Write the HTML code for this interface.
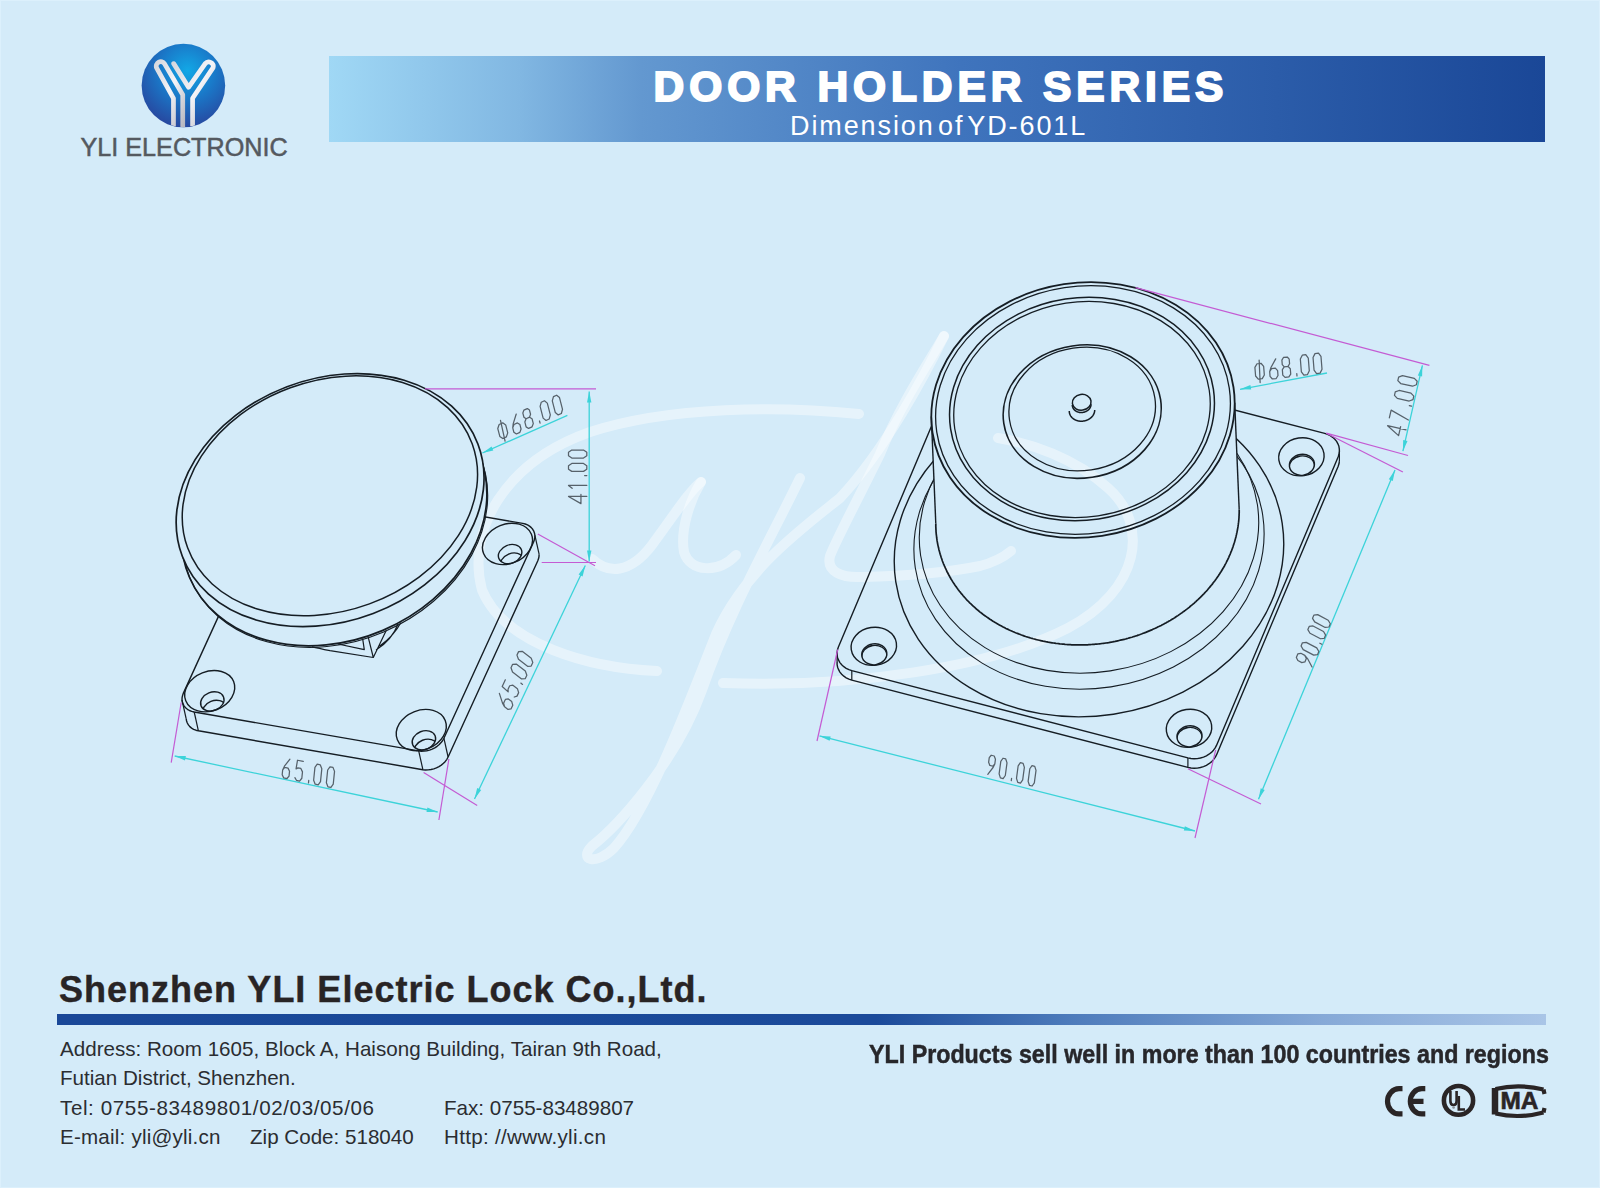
<!DOCTYPE html>
<html><head><meta charset="utf-8">
<style>
html,body{margin:0;padding:0;}
body{width:1600px;height:1188px;position:relative;overflow:hidden;background:#d4ebf9;box-shadow:inset -1px -1px 0 #dcf0fc, inset 1px 1px 0 #dcf0fc;font-family:"Liberation Sans",sans-serif;}
.abs{position:absolute;line-height:1;white-space:pre;}
#bar{position:absolute;left:329px;top:56px;width:1216px;height:86px;background:linear-gradient(to right,#a0d8f5 0%,#81b7e2 15.7%,#6398d0 25.6%,#3f74bd 52%,#2b5ca9 78%,#1a4797 100%);}
#t1{left:653.6px;top:65.6px;font-size:42.5px;font-weight:bold;color:#fff;letter-spacing:4.9px;-webkit-text-stroke:2px #fff;}
#t2{left:790px;top:112.5px;font-size:27px;color:#fff;letter-spacing:1.9px;word-spacing:-6px;}
#logo-t{left:80.5px;top:135px;font-size:25.2px;color:#545960;-webkit-text-stroke:0.5px #545960;}
#comp{left:59px;top:972px;font-size:36px;font-weight:bold;color:#282425;letter-spacing:1px;-webkit-text-stroke:0.4px #282425;}
#line{position:absolute;left:57px;top:1014px;width:1489px;height:11px;background:linear-gradient(to right,#1a4898 0%,#1b4a9a 55%,#4d7bbb 68%,#86a9d7 85%,#a9c5e7 100%);}
.ft{font-size:20.6px;color:#2b2d31;}
#prod{left:869px;top:1041.5px;font-size:25.4px;font-weight:bold;color:#27272b;transform:scaleX(0.916);transform-origin:0 0;-webkit-text-stroke:0.5px #27272b;}
</style></head>
<body>
<svg id="dwg" width="1600" height="1188" viewBox="0 0 1600 1188" style="position:absolute;left:0;top:0"><defs><mask id="mDisc" maskUnits="userSpaceOnUse" x="0" y="0" width="1600" height="1188"><rect width="1600" height="1188" fill="#fff"/><ellipse cx="330.1" cy="500.1" rx="158.1" ry="121.3" transform="rotate(159.2 330.1 500.1)" fill="#000"/><ellipse cx="334.1" cy="515.5" rx="157.3" ry="124.8" transform="rotate(157.0 334.1 515.5)" fill="#000"/></mask><mask id="mE1" maskUnits="userSpaceOnUse" x="0" y="0" width="1600" height="1188"><rect width="1600" height="1188" fill="#fff"/><ellipse cx="330.1" cy="500.1" rx="158.1" ry="121.3" transform="rotate(159.2 330.1 500.1)" fill="#000"/></mask><clipPath id="hl0"><ellipse cx="212.3" cy="701.4" rx="12.1" ry="9.2" transform="rotate(158.1 212.3 701.4)" /></clipPath><clipPath id="hl1"><ellipse cx="423.9" cy="740.3" rx="12.1" ry="9.2" transform="rotate(158.1 423.9 740.3)" /></clipPath><clipPath id="hl2"><ellipse cx="510.1" cy="554.1" rx="12.1" ry="9.2" transform="rotate(158.1 510.1 554.1)" /></clipPath><mask id="mCyl" maskUnits="userSpaceOnUse" x="0" y="0" width="1600" height="1188"><rect width="1600" height="1188" fill="#fff"/><ellipse cx="1083.0" cy="410.0" rx="152.2" ry="127.3" transform="rotate(171.4 1083.0 410.0)" fill="#000"/><ellipse cx="1087.5" cy="517.0" rx="152.2" ry="127.3" transform="rotate(171.4 1087.5 517.0)" fill="#000"/><path d="M931.3,416.5 L1234.7,402.9 L1239.2,509.9 L935.8,523.5 Z" fill="#000"/></mask><clipPath id="hr0"><ellipse cx="874.3" cy="654.3" rx="12.6" ry="10.5" transform="rotate(171.4 874.3 654.3)" /></clipPath><clipPath id="hr1"><ellipse cx="1189.5" cy="736.3" rx="12.6" ry="10.5" transform="rotate(171.4 1189.5 736.3)" /></clipPath><clipPath id="hr2"><ellipse cx="1301.9" cy="464.8" rx="12.6" ry="10.5" transform="rotate(171.4 1301.9 464.8)" /></clipPath></defs><g fill="none" stroke="#ffffff" stroke-opacity="0.42" stroke-width="10" stroke-linecap="round" stroke-linejoin="round">
<path d="M859,414 C780,406 670,406 590,432 C505,462 466,530 482,590 C505,645 590,668 657,671"/>
<path d="M723,683 C850,688 990,668 1068,628 C1140,590 1150,525 1108,488 C1075,458 1030,443 998,438"/>
<path d="M592,559 C608,574 630,574 652,545 C672,518 690,490 701,482"/>
<path d="M701,482 C690,500 680,530 684,552 C690,572 718,574 736,555"/>
<path d="M800,478 C770,540 730,610 702,690 C675,765 615,828 592,846 C578,860 596,866 614,848 C650,808 690,700 716,634 C745,570 800,530 840,498 C885,450 925,375 944,336"/>
<path d="M944,336 C930,360 900,405 880,454 C855,505 836,540 830,556 C826,572 842,578 862,577 C910,576 950,572 980,566 C995,562 1005,556 1011,551"/>
</g>
<g fill="none" stroke="#151d24" stroke-width="1.4" stroke-linejoin="round"><path d="M183.4,693.1 L182.6,695.4 L182.1,697.7 L182.0,700.0 L182.4,702.2 L183.1,704.2 L184.2,706.1 L185.6,707.8 L187.4,709.3 L189.4,710.5 L191.7,711.4 L194.2,712.0 L418.7,750.9 L421.3,751.2 L424.0,751.1 L426.8,750.7 L429.6,750.1 L432.2,749.1 L434.8,747.8 L437.1,746.3 L439.3,744.5 L441.1,742.6 L442.7,740.5 L443.9,738.2 L533.5,542.2 L534.3,540.0 L534.8,537.7 L534.9,535.4 L534.5,533.2 L533.8,531.2 L532.7,529.3 L531.3,527.6 L529.5,526.1 L527.5,524.9 L525.2,524.0 L522.7,523.4 L298.2,484.5 L295.6,484.2 L292.9,484.3 L290.1,484.6 L287.3,485.3 L284.7,486.3 L282.1,487.6 L279.8,489.1 L277.6,490.9 L275.8,492.8 L274.2,494.9 L273.0,497.1 Z" mask="url(#mDisc)"/><path d="M186.2,718.8 L186.6,721.0 L187.3,723.0 L188.4,724.9 L189.8,726.6 L191.6,728.1 L193.6,729.3 L195.9,730.2 L198.4,730.8 L422.9,769.7 L425.5,770.0 L428.2,769.9 L431.0,769.5 L433.8,768.9 L436.4,767.9 L439.0,766.6 L441.3,765.1 L443.5,763.3 L445.3,761.4 L446.9,759.3 L448.1,757.0 L537.7,561.0 L538.5,558.8 L539.0,556.5 L539.1,554.2" mask="url(#mDisc)"/><line x1="182.0" y1="700.0" x2="186.2" y2="718.8" stroke="#151d24" stroke-width="1.2" /><line x1="194.2" y1="712.0" x2="198.4" y2="730.8" stroke="#151d24" stroke-width="1.2" /><line x1="418.7" y1="750.9" x2="422.9" y2="769.7" stroke="#151d24" stroke-width="1.2" /><line x1="443.9" y1="738.2" x2="448.1" y2="757.0" stroke="#151d24" stroke-width="1.2" /><line x1="534.9" y1="535.4" x2="539.1" y2="554.2" stroke="#151d24" stroke-width="1.2" /><ellipse cx="209.7" cy="691.2" rx="25.8" ry="19.7" transform="rotate(158.1 209.7 691.2)" /><ellipse cx="212.3" cy="701.4" rx="12.1" ry="9.2" transform="rotate(158.1 212.3 701.4)" /><g clip-path="url(#hl0)"><ellipse cx="214.3" cy="709.9" rx="12.1" ry="9.2" transform="rotate(158.1 214.3 709.9)" /></g><ellipse cx="421.3" cy="730.1" rx="25.8" ry="19.7" transform="rotate(158.1 421.3 730.1)" /><ellipse cx="423.9" cy="740.3" rx="12.1" ry="9.2" transform="rotate(158.1 423.9 740.3)" /><g clip-path="url(#hl1)"><ellipse cx="425.9" cy="748.8" rx="12.1" ry="9.2" transform="rotate(158.1 425.9 748.8)" /></g><ellipse cx="507.5" cy="543.9" rx="25.8" ry="19.7" transform="rotate(158.1 507.5 543.9)" /><ellipse cx="510.1" cy="554.1" rx="12.1" ry="9.2" transform="rotate(158.1 510.1 554.1)" /><g clip-path="url(#hl2)"><ellipse cx="512.1" cy="562.6" rx="12.1" ry="9.2" transform="rotate(158.1 512.1 562.6)" /></g><ellipse cx="330.1" cy="500.1" rx="158.1" ry="121.3" transform="rotate(159.2 330.1 500.1)" stroke-width="1.7"/><ellipse cx="329.9" cy="495.8" rx="151.5" ry="115.1" transform="rotate(159.9 329.9 495.8)" stroke-width="1.5"/><g mask="url(#mE1)"><ellipse cx="334.1" cy="515.5" rx="157.3" ry="124.8" transform="rotate(157.0 334.1 515.5)" stroke-width="1.7"/><ellipse cx="334.9" cy="517.1" rx="157.3" ry="124.8" transform="rotate(157.0 334.9 517.1)" stroke-width="1.1"/></g><path d="M337.9,644 L364.3,649.6 L362.6,638.4 M368.2,637.2 L373.3,657.5 L386.2,630.5 M373.3,657.5 L330,650.7 Q318,648 312,646.8 M379.5,646.2 Q394,636 400.9,622.6 M376,650 Q392,640 398,624" stroke-width="1.2"/></g><g fill="none" stroke="#151d24" stroke-width="1.4" stroke-linejoin="round"><path d="M838.4,647.1 L837.5,649.7 L837.1,652.4 L837.1,655.1 L837.6,657.7 L838.6,660.2 L839.9,662.6 L841.7,664.7 L843.8,666.7 L846.2,668.3 L848.9,669.6 L851.8,670.6 L1187.9,757.9 L1191.0,758.5 L1194.1,758.7 L1197.3,758.6 L1200.4,758.0 L1203.5,757.1 L1206.4,755.8 L1209.0,754.2 L1211.4,752.4 L1213.5,750.2 L1215.2,747.9 L1216.5,745.4 L1338.1,456.9 L1339.0,454.3 L1339.4,451.6 L1339.3,448.9 L1338.9,446.3 L1337.9,443.8 L1336.6,441.4 L1334.8,439.2 L1332.7,437.3 L1330.3,435.7 L1327.6,434.4 L1324.7,433.4 L988.6,346.1 L985.5,345.5 L982.4,345.2 L979.2,345.4 L976.0,346.0 L973.0,346.9 L970.1,348.2 L967.4,349.7 L965.1,351.6 L963.0,353.8 L961.3,356.1 L960.0,358.6 Z" mask="url(#mCyl)"/><path d="M837.1,661.9 L837.1,664.6 L837.6,667.2 L838.6,669.7 L839.9,672.1 L841.7,674.2 L843.8,676.2 L846.2,677.8 L848.9,679.1 L851.8,680.1 L1187.9,767.4 L1191.0,768.0 L1194.1,768.2 L1197.3,768.1 L1200.4,767.5 L1203.5,766.6 L1206.4,765.3 L1209.0,763.7 L1211.4,761.9 L1213.5,759.7 L1215.2,757.4 L1216.5,754.9 L1338.1,466.4 L1339.0,463.8 L1339.4,461.1"/><line x1="837.1" y1="652.4" x2="837.1" y2="661.9" stroke="#151d24" stroke-width="1.2" /><line x1="851.8" y1="670.6" x2="851.8" y2="680.1" stroke="#151d24" stroke-width="1.2" /><line x1="1187.9" y1="757.9" x2="1187.9" y2="767.4" stroke="#151d24" stroke-width="1.2" /><line x1="1339.4" y1="451.6" x2="1339.4" y2="461.1" stroke="#151d24" stroke-width="1.2" /><g mask="url(#mCyl)"><ellipse cx="1089.0" cy="552.6" rx="195.4" ry="163.5" transform="rotate(171.4 1089.0 552.6)" /><ellipse cx="1089.0" cy="541.5" rx="175.7" ry="147.0" transform="rotate(171.4 1089.0 541.5)" stroke-width="1.1"/><ellipse cx="1089.0" cy="530.0" rx="170.3" ry="142.5" transform="rotate(171.4 1089.0 530.0)" stroke-width="1.1"/></g><path d="M935.8,523.5 L935.8,524.6 L935.8,525.8 L935.8,526.9 L935.9,528.0 L935.9,529.1 L936.0,530.2 L936.0,531.3 L936.1,532.4 L936.2,533.5 L936.3,534.7 L936.5,535.8 L936.6,536.9 L936.7,538.0 L936.9,539.1 L937.0,540.2 L937.2,541.3 L937.4,542.4 L937.6,543.5 L937.8,544.6 L938.0,545.6 L938.3,546.7 L938.5,547.8 L938.8,548.9 L939.0,550.0 L939.3,551.1 L939.6,552.1 L939.9,553.2 L940.2,554.3 L940.6,555.4 L940.9,556.4 L941.2,557.5 L941.6,558.5 L942.0,559.6 L942.3,560.7 L942.7,561.7 L943.1,562.7 L943.5,563.8 L944.0,564.8 L944.4,565.9 L944.9,566.9 L945.3,567.9 L945.8,568.9 L946.3,570.0 L946.7,571.0 L947.2,572.0 L947.8,573.0 L948.3,574.0 L948.8,575.0 L949.4,576.0 L949.9,577.0 L950.5,578.0 L951.0,579.0 L951.6,579.9 L952.2,580.9 L952.8,581.9 L953.4,582.8 L954.1,583.8 L954.7,584.7 L955.4,585.7 L956.0,586.6 L956.7,587.6 L957.4,588.5 L958.0,589.4 L958.7,590.3 L959.4,591.2 L960.2,592.1 L960.9,593.1 L961.6,593.9 L962.4,594.8 L963.1,595.7 L963.9,596.6 L964.7,597.5 L965.4,598.3 L966.2,599.2 L967.0,600.1 L967.8,600.9 L968.7,601.7 L969.5,602.6 L970.3,603.4 L971.2,604.2 L972.0,605.0 L972.9,605.8 L973.8,606.6 L974.7,607.4 L975.5,608.2 L976.4,609.0 L977.4,609.8 L978.3,610.5 L979.2,611.3 L980.1,612.1 L981.1,612.8 L982.0,613.5 L983.0,614.3 L983.9,615.0 L984.9,615.7 L985.9,616.4 L986.9,617.1 L987.9,617.8 L988.9,618.5 L989.9,619.2 L990.9,619.8 L991.9,620.5 L993.0,621.2 L994.0,621.8 L995.1,622.4 L996.1,623.1 L997.2,623.7 L998.2,624.3 L999.3,624.9 L1000.4,625.5 L1001.5,626.1 L1002.6,626.7 L1003.7,627.2 L1004.8,627.8 L1005.9,628.4 L1007.0,628.9 L1008.2,629.4 L1009.3,630.0 L1010.4,630.5 L1011.6,631.0 L1012.7,631.5 L1013.9,632.0 L1015.0,632.5 L1016.2,633.0 L1017.4,633.4 L1018.6,633.9 L1019.7,634.3 L1020.9,634.8 L1022.1,635.2 L1023.3,635.6 L1024.5,636.1 L1025.7,636.5 L1027.0,636.9 L1028.2,637.2 L1029.4,637.6 L1030.6,638.0 L1031.9,638.3 L1033.1,638.7 L1034.3,639.0 L1035.6,639.4 L1036.8,639.7 L1038.1,640.0 L1039.3,640.3 L1040.6,640.6 L1041.8,640.9 L1043.1,641.2 L1044.4,641.4 L1045.7,641.7 L1046.9,641.9 L1048.2,642.2 L1049.5,642.4 L1050.8,642.6 L1052.1,642.8 L1053.4,643.0 L1054.6,643.2 L1055.9,643.4 L1057.2,643.5 L1058.5,643.7 L1059.8,643.9 L1061.1,644.0 L1062.5,644.1 L1063.8,644.2 L1065.1,644.4 L1066.4,644.5 L1067.7,644.6 L1069.0,644.6 L1070.3,644.7 L1071.6,644.8 L1073.0,644.8 L1074.3,644.9 L1075.6,644.9 L1076.9,644.9 L1078.3,644.9 L1079.6,644.9 L1080.9,644.9 L1082.2,644.9 L1083.6,644.9 L1084.9,644.9 L1086.2,644.8 L1087.5,644.8 L1088.9,644.7 L1090.2,644.6 L1091.5,644.5 L1092.8,644.4 L1094.2,644.3 L1095.5,644.2 L1096.8,644.1 L1098.1,644.0 L1099.5,643.8 L1100.8,643.7 L1102.1,643.5 L1103.4,643.3 L1104.7,643.2 L1106.0,643.0 L1107.4,642.8 L1108.7,642.6 L1110.0,642.3 L1111.3,642.1 L1112.6,641.9 L1113.9,641.6 L1115.2,641.4 L1116.5,641.1 L1117.8,640.8 L1119.1,640.5 L1120.4,640.2 L1121.7,639.9 L1123.0,639.6 L1124.3,639.3 L1125.6,639.0 L1126.9,638.6 L1128.1,638.3 L1129.4,637.9 L1130.7,637.5 L1131.9,637.2 L1133.2,636.8 L1134.5,636.4 L1135.7,636.0 L1137.0,635.6 L1138.2,635.1 L1139.5,634.7 L1140.7,634.3 L1142.0,633.8 L1143.2,633.3 L1144.4,632.9 L1145.7,632.4 L1146.9,631.9 L1148.1,631.4 L1149.3,630.9 L1150.5,630.4 L1151.7,629.9 L1152.9,629.3 L1154.1,628.8 L1155.3,628.3 L1156.5,627.7 L1157.7,627.1 L1158.8,626.6 L1160.0,626.0 L1161.2,625.4 L1162.3,624.8 L1163.5,624.2 L1164.6,623.6 L1165.8,623.0 L1166.9,622.3 L1168.0,621.7 L1169.1,621.0 L1170.3,620.4 L1171.4,619.7 L1172.5,619.0 L1173.6,618.4 L1174.7,617.7 L1175.7,617.0 L1176.8,616.3 L1177.9,615.6 L1178.9,614.9 L1180.0,614.1 L1181.0,613.4 L1182.1,612.7 L1183.1,611.9 L1184.1,611.2 L1185.2,610.4 L1186.2,609.6 L1187.2,608.9 L1188.2,608.1 L1189.2,607.3 L1190.1,606.5 L1191.1,605.7 L1192.1,604.9 L1193.0,604.1 L1194.0,603.3 L1194.9,602.4 L1195.9,601.6 L1196.8,600.7 L1197.7,599.9 L1198.6,599.0 L1199.5,598.2 L1200.4,597.3 L1201.3,596.4 L1202.1,595.6 L1203.0,594.7 L1203.9,593.8 L1204.7,592.9 L1205.5,592.0 L1206.4,591.1 L1207.2,590.2 L1208.0,589.2 L1208.8,588.3 L1209.6,587.4 L1210.4,586.4 L1211.1,585.5 L1211.9,584.6 L1212.7,583.6 L1213.4,582.6 L1214.1,581.7 L1214.9,580.7 L1215.6,579.7 L1216.3,578.8 L1217.0,577.8 L1217.7,576.8 L1218.4,575.8 L1219.0,574.8 L1219.7,573.8 L1220.3,572.8 L1221.0,571.8 L1221.6,570.8 L1222.2,569.8 L1222.8,568.8 L1223.4,567.7 L1224.0,566.7 L1224.6,565.7 L1225.1,564.6 L1225.7,563.6 L1226.2,562.6 L1226.7,561.5 L1227.3,560.5 L1227.8,559.4 L1228.3,558.3 L1228.8,557.3 L1229.2,556.2 L1229.7,555.2 L1230.2,554.1 L1230.2,554.1 L1230.6,553.0 L1231.0,551.9 L1231.5,550.9 L1231.9,549.8 L1232.3,548.7 L1232.7,547.6 L1233.1,546.5 L1233.4,545.4 L1233.8,544.4 L1234.1,543.3 L1234.5,542.2 L1234.8,541.1 L1235.1,540.0 L1235.4,538.9 L1235.7,537.8 L1236.0,536.7 L1236.2,535.6 L1236.5,534.5 L1236.7,533.3 L1237.0,532.2 L1237.2,531.1 L1237.4,530.0 L1237.6,528.9 L1237.8,527.8 L1238.0,526.7 L1238.1,525.6 L1238.3,524.4 L1238.4,523.3 L1238.6,522.2 L1238.7,521.1 L1238.8,520.0 L1238.9,518.9 L1239.0,517.7 L1239.0,516.6 L1239.1,515.5 L1239.1,514.4 L1239.2,513.3 L1239.2,512.1 L1239.2,511.0 L1239.2,509.9" stroke-width="1.7"/><line x1="931.3" y1="416.5" x2="935.8" y2="523.5" stroke="#151d24" stroke-width="1.4" /><line x1="1234.7" y1="402.9" x2="1239.2" y2="509.9" stroke="#151d24" stroke-width="1.4" /><ellipse cx="1083.0" cy="410.0" rx="152.2" ry="127.3" transform="rotate(171.4 1083.0 410.0)" stroke-width="1.8"/><ellipse cx="1083.0" cy="410.0" rx="147.9" ry="123.7" transform="rotate(171.4 1083.0 410.0)" stroke-width="1.3"/><ellipse cx="1082.0" cy="409.0" rx="132.9" ry="111.2" transform="rotate(171.4 1082.0 409.0)" stroke-width="1.5"/><ellipse cx="1082.0" cy="409.5" rx="128.7" ry="107.6" transform="rotate(171.4 1082.0 409.5)" stroke-width="1.3"/><ellipse cx="1082.2" cy="411.6" rx="79.3" ry="66.4" transform="rotate(171.4 1082.2 411.6)" stroke-width="1.6"/><ellipse cx="1082.2" cy="409.0" rx="73.5" ry="61.5" transform="rotate(171.4 1082.2 409.0)" stroke-width="1.3"/><path d="M1069.3,411.0 L1069.3,411.2 L1069.3,411.4 L1069.3,411.6 L1069.3,411.8 L1069.3,411.9 L1069.3,412.1 L1069.4,412.3 L1069.4,412.5 L1069.4,412.7 L1069.4,412.9 L1069.5,413.0 L1069.5,413.2 L1069.6,413.4 L1069.6,413.6 L1069.7,413.8 L1069.7,414.0 L1069.8,414.1 L1069.9,414.3 L1069.9,414.5 L1070.0,414.7 L1070.1,414.8 L1070.2,415.0 L1070.3,415.2 L1070.3,415.3 L1070.4,415.5 L1070.5,415.7 L1070.6,415.8 L1070.7,416.0 L1070.8,416.2 L1070.9,416.3 L1071.1,416.5 L1071.2,416.6 L1071.3,416.8 L1071.4,416.9 L1071.5,417.1 L1071.7,417.2 L1071.8,417.4 L1071.9,417.5 L1072.1,417.7 L1072.2,417.8 L1072.4,417.9 L1072.5,418.1 L1072.7,418.2 L1072.8,418.3 L1073.0,418.5 L1073.1,418.6 L1073.3,418.7 L1073.4,418.8 L1073.6,418.9 L1073.8,419.1 L1074.0,419.2 L1074.1,419.3 L1074.3,419.4 L1074.5,419.5 L1074.7,419.6 L1074.8,419.7 L1075.0,419.8 L1075.2,419.9 L1075.4,420.0 L1075.6,420.1 L1075.8,420.1 L1076.0,420.2 L1076.2,420.3 L1076.4,420.4 L1076.6,420.4 L1076.8,420.5 L1077.0,420.6 L1077.2,420.6 L1077.4,420.7 L1077.6,420.8 L1077.8,420.8 L1078.0,420.9 L1078.2,420.9 L1078.5,421.0 L1078.7,421.0 L1078.9,421.0 L1079.1,421.1 L1079.3,421.1 L1079.5,421.1 L1079.8,421.2 L1080.0,421.2 L1080.2,421.2 L1080.4,421.2 L1080.6,421.2 L1080.9,421.2 L1081.1,421.2 L1081.3,421.2 L1081.5,421.2 L1081.8,421.2 L1082.0,421.2 L1082.2,421.2 L1082.4,421.2 L1082.6,421.2 L1082.9,421.2 L1083.1,421.1 L1083.3,421.1 L1083.5,421.1 L1083.8,421.0 L1084.0,421.0 L1084.2,421.0 L1084.4,420.9 L1084.6,420.9 L1084.9,420.8 L1085.1,420.8 L1085.3,420.7 L1085.5,420.7 L1085.7,420.6 L1085.9,420.5 L1086.1,420.5 L1086.3,420.4 L1086.6,420.3 L1086.8,420.2 L1087.0,420.1 L1087.2,420.1 L1087.4,420.0 L1087.6,419.9 L1087.8,419.8 L1088.0,419.7 L1088.2,419.6 L1088.4,419.5 L1088.6,419.4 L1088.7,419.3 L1088.9,419.2 L1089.1,419.1 L1089.3,419.0 L1089.5,418.8 L1089.7,418.7 L1089.8,418.6 L1090.0,418.5 L1090.2,418.3 L1090.4,418.2 L1090.5,418.1 L1090.7,417.9 L1090.9,417.8 L1091.0,417.7 L1091.2,417.5 L1091.3,417.4 L1091.5,417.2 L1091.6,417.1 L1091.8,416.9 L1091.9,416.8 L1092.0,416.6 L1092.2,416.5 L1092.3,416.3 L1092.4,416.2 L1092.6,416.0 L1092.7,415.9 L1092.8,415.7 L1092.9,415.5 L1093.0,415.4 L1093.1,415.2 L1093.3,415.0 L1093.4,414.8 L1093.5,414.7 L1093.5,414.5 L1093.6,414.3 L1093.7,414.1 L1093.8,414.0 L1093.9,413.8 L1094.0,413.6 L1094.0,413.6 L1094.0,413.4 L1094.1,413.3 L1094.2,413.1 L1094.2,412.9 L1094.3,412.7 L1094.4,412.5 L1094.4,412.3 L1094.5,412.1 L1094.5,412.0 L1094.5,411.8 L1094.6,411.6 L1094.6,411.4 L1094.6,411.2 L1094.7,411.0 L1094.7,410.8 L1094.7,410.7 L1094.7,410.5 L1094.7,410.3 L1094.7,410.1 L1094.7,409.9" stroke-width="1.5"/><ellipse cx="1081.7" cy="402.3" rx="9.4" ry="7.9" transform="rotate(171.4 1081.7 402.3)" stroke-width="1.5"/><path d="M1072.3,405.0 L1072.3,405.1 L1072.3,405.2 L1072.3,405.4 L1072.3,405.5 L1072.3,405.7 L1072.4,405.8 L1072.4,405.9 L1072.4,406.1 L1072.4,406.2 L1072.5,406.3 L1072.5,406.5 L1072.5,406.6 L1072.5,406.7 L1072.6,406.9 L1072.6,407.0 L1072.7,407.1 L1072.7,407.3 L1072.8,407.4 L1072.8,407.5 L1072.9,407.7 L1072.9,407.8 L1073.0,407.9 L1073.0,408.0 L1073.1,408.2 L1073.2,408.3 L1073.2,408.4 L1073.3,408.5 L1073.4,408.6 L1073.5,408.8 L1073.6,408.9 L1073.6,409.0 L1073.7,409.1 L1073.8,409.2 L1073.9,409.3 L1074.0,409.4 L1074.1,409.6 L1074.2,409.7 L1074.3,409.8 L1074.4,409.9 L1074.5,410.0 L1074.6,410.1 L1074.7,410.2 L1074.8,410.3 L1074.9,410.4 L1075.0,410.5 L1075.2,410.6 L1075.3,410.6 L1075.4,410.7 L1075.5,410.8 L1075.6,410.9 L1075.8,411.0 L1075.9,411.1 L1076.0,411.1 L1076.2,411.2 L1076.3,411.3 L1076.4,411.4 L1076.6,411.4 L1076.7,411.5 L1076.8,411.6 L1077.0,411.6 L1077.1,411.7 L1077.3,411.8 L1077.4,411.8 L1077.6,411.9 L1077.7,411.9 L1077.9,412.0 L1078.0,412.0 L1078.2,412.1 L1078.3,412.1 L1078.5,412.2 L1078.6,412.2 L1078.8,412.2 L1078.9,412.3 L1079.1,412.3 L1079.3,412.3 L1079.4,412.4 L1079.6,412.4 L1079.7,412.4 L1079.9,412.4 L1080.1,412.5 L1080.2,412.5 L1080.4,412.5 L1080.5,412.5 L1080.7,412.5 L1080.9,412.5 L1081.0,412.5 L1081.2,412.5 L1081.4,412.5 L1081.5,412.5 L1081.7,412.5 L1081.9,412.5 L1082.0,412.5 L1082.2,412.5 L1082.3,412.5 L1082.5,412.4 L1082.7,412.4 L1082.8,412.4 L1083.0,412.4 L1083.2,412.3 L1083.3,412.3 L1083.5,412.3 L1083.6,412.2 L1083.8,412.2 L1084.0,412.2 L1084.1,412.1 L1084.3,412.1 L1084.4,412.0 L1084.6,412.0 L1084.7,411.9 L1084.9,411.9 L1085.1,411.8 L1085.2,411.8 L1085.4,411.7 L1085.5,411.6 L1085.7,411.6 L1085.8,411.5 L1086.0,411.4 L1086.1,411.4 L1086.2,411.3 L1086.4,411.2 L1086.5,411.2 L1086.7,411.1 L1086.8,411.0 L1086.9,410.9 L1087.1,410.8 L1087.2,410.7 L1087.3,410.7 L1087.5,410.6 L1087.6,410.5 L1087.7,410.4 L1087.9,410.3 L1088.0,410.2 L1088.1,410.1 L1088.2,410.0 L1088.3,409.9 L1088.5,409.8 L1088.6,409.7 L1088.7,409.6 L1088.8,409.5 L1088.9,409.4 L1089.0,409.2 L1089.1,409.1 L1089.2,409.0 L1089.3,408.9 L1089.4,408.8 L1089.5,408.7 L1089.6,408.5 L1089.7,408.4 L1089.7,408.3 L1089.8,408.2 L1089.9,408.1 L1090.0,407.9 L1090.1,407.8 L1090.1,407.7 L1090.2,407.5 L1090.3,407.4 L1090.3,407.3 L1090.4,407.2 L1090.5,407.0 L1090.5,406.9 L1090.5,406.9 L1090.6,406.8 L1090.6,406.6 L1090.7,406.5 L1090.7,406.4 L1090.8,406.2 L1090.8,406.1 L1090.8,406.0 L1090.9,405.8 L1090.9,405.7 L1090.9,405.5 L1091.0,405.4 L1091.0,405.3 L1091.0,405.1 L1091.0,405.0 L1091.0,404.8 L1091.1,404.7 L1091.1,404.6 L1091.1,404.4 L1091.1,404.3 L1091.1,404.2" stroke-width="1.5"/><ellipse cx="873.8" cy="646.3" rx="22.8" ry="19.0" transform="rotate(171.4 873.8 646.3)" /><ellipse cx="874.3" cy="654.3" rx="12.6" ry="10.5" transform="rotate(171.4 874.3 654.3)" /><g clip-path="url(#hr0)"><ellipse cx="874.3" cy="655.9" rx="12.6" ry="10.5" transform="rotate(171.4 874.3 655.9)" /></g><ellipse cx="1189.0" cy="728.3" rx="22.8" ry="19.0" transform="rotate(171.4 1189.0 728.3)" /><ellipse cx="1189.5" cy="736.3" rx="12.6" ry="10.5" transform="rotate(171.4 1189.5 736.3)" /><g clip-path="url(#hr1)"><ellipse cx="1189.5" cy="737.9" rx="12.6" ry="10.5" transform="rotate(171.4 1189.5 737.9)" /></g><ellipse cx="1301.4" cy="456.8" rx="22.8" ry="19.0" transform="rotate(171.4 1301.4 456.8)" /><ellipse cx="1301.9" cy="464.8" rx="12.6" ry="10.5" transform="rotate(171.4 1301.9 464.8)" /><g clip-path="url(#hr2)"><ellipse cx="1301.9" cy="466.4" rx="12.6" ry="10.5" transform="rotate(171.4 1301.9 466.4)" /></g></g><line x1="425.0" y1="388.8" x2="596.0" y2="388.8" stroke="#c45bd3" stroke-width="1.2" /><line x1="537.8" y1="534.0" x2="595.0" y2="565.7" stroke="#c45bd3" stroke-width="1.2" /><line x1="541.7" y1="562.5" x2="596.0" y2="562.5" stroke="#c45bd3" stroke-width="1.2" /><line x1="181.2" y1="702.5" x2="171.2" y2="762.6" stroke="#c45bd3" stroke-width="1.2" /><line x1="423.6" y1="772.5" x2="477.2" y2="805.5" stroke="#c45bd3" stroke-width="1.2" /><line x1="448.9" y1="759.0" x2="438.9" y2="820.0" stroke="#c45bd3" stroke-width="1.2" /><line x1="589.2" y1="391.6" x2="589.2" y2="561.5" stroke="#3cd3d9" stroke-width="1.3" /><path d="M589.2,391.6 L587.0,402.6 L591.4,402.6 Z" fill="#3cd3d9"/><path d="M589.2,561.5 L591.4,550.5 L587.0,550.5 Z" fill="#3cd3d9"/><line x1="567.4" y1="415.4" x2="482.4" y2="453.0" stroke="#3cd3d9" stroke-width="1.3" /><path d="M482.4,453.0 L493.3,450.6 L491.6,446.5 Z" fill="#3cd3d9"/><line x1="585.3" y1="565.5" x2="474.5" y2="799.0" stroke="#3cd3d9" stroke-width="1.3" /><path d="M585.3,565.5 L578.6,574.5 L582.6,576.4 Z" fill="#3cd3d9"/><path d="M474.5,799.0 L481.2,790.0 L477.2,788.1 Z" fill="#3cd3d9"/><line x1="174.7" y1="756.0" x2="437.7" y2="812.0" stroke="#3cd3d9" stroke-width="1.3" /><path d="M174.7,756.0 L185.0,760.4 L185.9,756.1 Z" fill="#3cd3d9"/><path d="M437.7,812.0 L427.4,807.6 L426.5,811.9 Z" fill="#3cd3d9"/><g transform="translate(586.8,503.6) rotate(-90.00) skewX(0.00) translate(0,-18.30) scale(18.30)" fill="none" stroke="#56616a" stroke-width="0.0683" stroke-linejoin="round" stroke-linecap="round"><path transform="translate(0.000,0) scale(0.870,1)" d="M0.45,1 L0.45,0 L0,0.68 L0.58,0.68" vector-effect="non-scaling-stroke" stroke-width="1.25"/><path transform="translate(0.730,0) scale(0.870,1)" d="M0.12,0.2 L0.3,0 L0.3,1" vector-effect="non-scaling-stroke" stroke-width="1.25"/><path transform="translate(1.460,0) scale(0.870,1)" d="M0.08,0.88 L0.08,1" vector-effect="non-scaling-stroke" stroke-width="1.25"/><path transform="translate(1.760,0) scale(0.870,1)" d="M0.14,0 L0.36,0 L0.5,0.18 L0.5,0.82 L0.36,1 L0.14,1 L0,0.82 L0,0.18 Z" vector-effect="non-scaling-stroke" stroke-width="1.25"/><path transform="translate(2.490,0) scale(0.870,1)" d="M0.14,0 L0.36,0 L0.5,0.18 L0.5,0.82 L0.36,1 L0.14,1 L0,0.82 L0,0.18 Z" vector-effect="non-scaling-stroke" stroke-width="1.25"/></g><g transform="translate(501.0,441.0) rotate(-24.50) skewX(-10.00) translate(0,-18.60) scale(18.60)" fill="none" stroke="#56616a" stroke-width="0.0672" stroke-linejoin="round" stroke-linecap="round"><path transform="translate(0.000,0) scale(0.850,1)" d="M0.15,0.15 L0.4,0.15 L0.55,0.32 L0.55,0.75 L0.4,0.92 L0.15,0.92 L0,0.75 L0,0.32 Z M0.3,-0.02 L0.25,1.1" vector-effect="non-scaling-stroke" stroke-width="1.25"/><path transform="translate(0.800,0) scale(0.850,1)" d="M0.44,0.02 L0.1,0.42 L0,0.62 L0,0.86 L0.13,1 L0.37,1 L0.5,0.86 L0.5,0.62 L0.37,0.48 L0.13,0.48 L0,0.62" vector-effect="non-scaling-stroke" stroke-width="1.25"/><path transform="translate(1.520,0) scale(0.850,1)" d="M0.13,0.47 L0.37,0.47 L0.48,0.35 L0.48,0.12 L0.37,0 L0.13,0 L0.02,0.12 L0.02,0.35 Z M0.13,0.47 L0,0.6 L0,0.87 L0.13,1 L0.37,1 L0.5,0.87 L0.5,0.6 L0.37,0.47" vector-effect="non-scaling-stroke" stroke-width="1.25"/><path transform="translate(2.240,0) scale(0.850,1)" d="M0.08,0.88 L0.08,1" vector-effect="non-scaling-stroke" stroke-width="1.25"/><path transform="translate(2.540,0) scale(0.850,1)" d="M0.14,0 L0.36,0 L0.5,0.18 L0.5,0.82 L0.36,1 L0.14,1 L0,0.82 L0,0.18 Z" vector-effect="non-scaling-stroke" stroke-width="1.25"/><path transform="translate(3.260,0) scale(0.850,1)" d="M0.14,0 L0.36,0 L0.5,0.18 L0.5,0.82 L0.36,1 L0.14,1 L0,0.82 L0,0.18 Z" vector-effect="non-scaling-stroke" stroke-width="1.25"/></g><g transform="translate(510.0,711.0) rotate(-64.80) skewX(-12.40) translate(0,-17.50) scale(17.50)" fill="none" stroke="#56616a" stroke-width="0.0714" stroke-linejoin="round" stroke-linecap="round"><path transform="translate(0.000,0) scale(1.000,1)" d="M0.44,0.02 L0.1,0.42 L0,0.62 L0,0.86 L0.13,1 L0.37,1 L0.5,0.86 L0.5,0.62 L0.37,0.48 L0.13,0.48 L0,0.62" vector-effect="non-scaling-stroke" stroke-width="1.25"/><path transform="translate(0.800,0) scale(1.000,1)" d="M0.48,0 L0.06,0 L0.02,0.44 L0.14,0.37 L0.36,0.37 L0.5,0.52 L0.5,0.84 L0.36,1 L0.14,1 L0,0.88" vector-effect="non-scaling-stroke" stroke-width="1.25"/><path transform="translate(1.600,0) scale(1.000,1)" d="M0.08,0.88 L0.08,1" vector-effect="non-scaling-stroke" stroke-width="1.25"/><path transform="translate(1.900,0) scale(1.000,1)" d="M0.14,0 L0.36,0 L0.5,0.18 L0.5,0.82 L0.36,1 L0.14,1 L0,0.82 L0,0.18 Z" vector-effect="non-scaling-stroke" stroke-width="1.25"/><path transform="translate(2.700,0) scale(1.000,1)" d="M0.14,0 L0.36,0 L0.5,0.18 L0.5,0.82 L0.36,1 L0.14,1 L0,0.82 L0,0.18 Z" vector-effect="non-scaling-stroke" stroke-width="1.25"/></g><g transform="translate(281.9,777.5) rotate(11.40) skewX(5.60) translate(0,-20.00) scale(20.00)" fill="none" stroke="#56616a" stroke-width="0.0625" stroke-linejoin="round" stroke-linecap="round"><path transform="translate(0.000,0) scale(0.700,1)" d="M0.44,0.02 L0.1,0.42 L0,0.62 L0,0.86 L0.13,1 L0.37,1 L0.5,0.86 L0.5,0.62 L0.37,0.48 L0.13,0.48 L0,0.62" vector-effect="non-scaling-stroke" stroke-width="1.25"/><path transform="translate(0.650,0) scale(0.700,1)" d="M0.48,0 L0.06,0 L0.02,0.44 L0.14,0.37 L0.36,0.37 L0.5,0.52 L0.5,0.84 L0.36,1 L0.14,1 L0,0.88" vector-effect="non-scaling-stroke" stroke-width="1.25"/><path transform="translate(1.300,0) scale(0.700,1)" d="M0.08,0.88 L0.08,1" vector-effect="non-scaling-stroke" stroke-width="1.25"/><path transform="translate(1.600,0) scale(0.700,1)" d="M0.14,0 L0.36,0 L0.5,0.18 L0.5,0.82 L0.36,1 L0.14,1 L0,0.82 L0,0.18 Z" vector-effect="non-scaling-stroke" stroke-width="1.25"/><path transform="translate(2.250,0) scale(0.700,1)" d="M0.14,0 L0.36,0 L0.5,0.18 L0.5,0.82 L0.36,1 L0.14,1 L0,0.82 L0,0.18 Z" vector-effect="non-scaling-stroke" stroke-width="1.25"/></g><line x1="1135.6" y1="287.7" x2="1429.4" y2="365.4" stroke="#c45bd3" stroke-width="1.2" /><line x1="1326.3" y1="433.2" x2="1408.0" y2="455.5" stroke="#c45bd3" stroke-width="1.2" /><line x1="1326.3" y1="433.2" x2="1402.9" y2="472.0" stroke="#c45bd3" stroke-width="1.2" /><line x1="837.7" y1="649.5" x2="817.0" y2="741.0" stroke="#c45bd3" stroke-width="1.2" /><line x1="1187.9" y1="768.8" x2="1261.0" y2="804.0" stroke="#c45bd3" stroke-width="1.2" /><line x1="1215.7" y1="749.8" x2="1195.0" y2="838.0" stroke="#c45bd3" stroke-width="1.2" /><line x1="1422.4" y1="365.4" x2="1402.9" y2="451.2" stroke="#3cd3d9" stroke-width="1.3" /><path d="M1422.4,365.4 L1417.8,375.6 L1422.1,376.6 Z" fill="#3cd3d9"/><path d="M1402.9,451.2 L1407.5,441.0 L1403.2,440.0 Z" fill="#3cd3d9"/><line x1="1327.0" y1="373.0" x2="1240.0" y2="389.3" stroke="#3cd3d9" stroke-width="1.3" /><path d="M1240.0,389.3 L1251.2,389.4 L1250.4,385.1 Z" fill="#3cd3d9"/><line x1="819.5" y1="735.9" x2="1195.0" y2="831.0" stroke="#3cd3d9" stroke-width="1.3" /><path d="M819.5,735.9 L829.6,740.7 L830.7,736.5 Z" fill="#3cd3d9"/><path d="M1195.0,831.0 L1184.9,826.2 L1183.8,830.4 Z" fill="#3cd3d9"/><line x1="1395.0" y1="470.0" x2="1258.5" y2="799.3" stroke="#3cd3d9" stroke-width="1.3" /><path d="M1395.0,470.0 L1388.8,479.3 L1392.8,481.0 Z" fill="#3cd3d9"/><path d="M1258.5,799.3 L1264.7,790.0 L1260.7,788.3 Z" fill="#3cd3d9"/><g transform="translate(1256.0,381.0) rotate(-7.00) skewX(-2.40) translate(0,-20.00) scale(20.00)" fill="none" stroke="#56616a" stroke-width="0.0625" stroke-linejoin="round" stroke-linecap="round"><path transform="translate(0.000,0) scale(0.800,1)" d="M0.15,0.15 L0.4,0.15 L0.55,0.32 L0.55,0.75 L0.4,0.92 L0.15,0.92 L0,0.75 L0,0.32 Z M0.3,-0.02 L0.25,1.1" vector-effect="non-scaling-stroke" stroke-width="1.25"/><path transform="translate(0.720,0) scale(0.800,1)" d="M0.44,0.02 L0.1,0.42 L0,0.62 L0,0.86 L0.13,1 L0.37,1 L0.5,0.86 L0.5,0.62 L0.37,0.48 L0.13,0.48 L0,0.62" vector-effect="non-scaling-stroke" stroke-width="1.25"/><path transform="translate(1.360,0) scale(0.800,1)" d="M0.13,0.47 L0.37,0.47 L0.48,0.35 L0.48,0.12 L0.37,0 L0.13,0 L0.02,0.12 L0.02,0.35 Z M0.13,0.47 L0,0.6 L0,0.87 L0.13,1 L0.37,1 L0.5,0.87 L0.5,0.6 L0.37,0.47" vector-effect="non-scaling-stroke" stroke-width="1.25"/><path transform="translate(2.000,0) scale(0.800,1)" d="M0.08,0.88 L0.08,1" vector-effect="non-scaling-stroke" stroke-width="1.25"/><path transform="translate(2.300,0) scale(0.800,1)" d="M0.14,0 L0.36,0 L0.5,0.18 L0.5,0.82 L0.36,1 L0.14,1 L0,0.82 L0,0.18 Z" vector-effect="non-scaling-stroke" stroke-width="1.25"/><path transform="translate(2.940,0) scale(0.800,1)" d="M0.14,0 L0.36,0 L0.5,0.18 L0.5,0.82 L0.36,1 L0.14,1 L0,0.82 L0,0.18 Z" vector-effect="non-scaling-stroke" stroke-width="1.25"/></g><g transform="translate(1404.5,437.0) rotate(-77.20) skewX(0.00) translate(0,-19.00) scale(19.00)" fill="none" stroke="#56616a" stroke-width="0.0658" stroke-linejoin="round" stroke-linecap="round"><path transform="translate(0.000,0) scale(0.850,1)" d="M0.45,1 L0.45,0 L0,0.68 L0.58,0.68" vector-effect="non-scaling-stroke" stroke-width="1.25"/><path transform="translate(0.800,0) scale(0.850,1)" d="M0,0 L0.5,0 L0.14,1" vector-effect="non-scaling-stroke" stroke-width="1.25"/><path transform="translate(1.600,0) scale(0.850,1)" d="M0.08,0.88 L0.08,1" vector-effect="non-scaling-stroke" stroke-width="1.25"/><path transform="translate(1.900,0) scale(0.850,1)" d="M0.14,0 L0.36,0 L0.5,0.18 L0.5,0.82 L0.36,1 L0.14,1 L0,0.82 L0,0.18 Z" vector-effect="non-scaling-stroke" stroke-width="1.25"/><path transform="translate(2.700,0) scale(0.850,1)" d="M0.14,0 L0.36,0 L0.5,0.18 L0.5,0.82 L0.36,1 L0.14,1 L0,0.82 L0,0.18 Z" vector-effect="non-scaling-stroke" stroke-width="1.25"/></g><g transform="translate(987.0,774.5) rotate(14.30) skewX(6.70) translate(0,-19.70) scale(19.70)" fill="none" stroke="#56616a" stroke-width="0.0635" stroke-linejoin="round" stroke-linecap="round"><path transform="translate(0.000,0) scale(0.650,1)" d="M0.06,0.98 L0.4,0.58 L0.5,0.38 L0.5,0.14 L0.37,0 L0.13,0 L0,0.14 L0,0.38 L0.13,0.52 L0.37,0.52 L0.5,0.38" vector-effect="non-scaling-stroke" stroke-width="1.25"/><path transform="translate(0.610,0) scale(0.650,1)" d="M0.14,0 L0.36,0 L0.5,0.18 L0.5,0.82 L0.36,1 L0.14,1 L0,0.82 L0,0.18 Z" vector-effect="non-scaling-stroke" stroke-width="1.25"/><path transform="translate(1.220,0) scale(0.650,1)" d="M0.08,0.88 L0.08,1" vector-effect="non-scaling-stroke" stroke-width="1.25"/><path transform="translate(1.520,0) scale(0.650,1)" d="M0.14,0 L0.36,0 L0.5,0.18 L0.5,0.82 L0.36,1 L0.14,1 L0,0.82 L0,0.18 Z" vector-effect="non-scaling-stroke" stroke-width="1.25"/><path transform="translate(2.130,0) scale(0.650,1)" d="M0.14,0 L0.36,0 L0.5,0.18 L0.5,0.82 L0.36,1 L0.14,1 L0,0.82 L0,0.18 Z" vector-effect="non-scaling-stroke" stroke-width="1.25"/></g><g transform="translate(1312.0,668.0) rotate(-67.50) skewX(-5.30) translate(0,-18.50) scale(18.50)" fill="none" stroke="#56616a" stroke-width="0.0676" stroke-linejoin="round" stroke-linecap="round"><path transform="translate(0.000,0) scale(0.850,1)" d="M0.06,0.98 L0.4,0.58 L0.5,0.38 L0.5,0.14 L0.37,0 L0.13,0 L0,0.14 L0,0.38 L0.13,0.52 L0.37,0.52 L0.5,0.38" vector-effect="non-scaling-stroke" stroke-width="1.25"/><path transform="translate(0.660,0) scale(0.850,1)" d="M0.14,0 L0.36,0 L0.5,0.18 L0.5,0.82 L0.36,1 L0.14,1 L0,0.82 L0,0.18 Z" vector-effect="non-scaling-stroke" stroke-width="1.25"/><path transform="translate(1.320,0) scale(0.850,1)" d="M0.08,0.88 L0.08,1" vector-effect="non-scaling-stroke" stroke-width="1.25"/><path transform="translate(1.620,0) scale(0.850,1)" d="M0.14,0 L0.36,0 L0.5,0.18 L0.5,0.82 L0.36,1 L0.14,1 L0,0.82 L0,0.18 Z" vector-effect="non-scaling-stroke" stroke-width="1.25"/><path transform="translate(2.280,0) scale(0.850,1)" d="M0.14,0 L0.36,0 L0.5,0.18 L0.5,0.82 L0.36,1 L0.14,1 L0,0.82 L0,0.18 Z" vector-effect="non-scaling-stroke" stroke-width="1.25"/></g></svg>
<div id="bar"></div>
<div class="abs" id="t1">DOOR HOLDER SERIES</div>
<div class="abs" id="t2">Dimension of YD-601L</div>
<svg width="88" height="88" viewBox="0 0 1188 1188" style="position:absolute;left:140px;top:42px">
<defs>
<radialGradient id="lgC" cx="0.55" cy="0.32" r="0.75">
<stop offset="0" stop-color="#12a8e6"/>
<stop offset="0.45" stop-color="#1a78c8"/>
<stop offset="1" stop-color="#2a3f98"/>
</radialGradient>
<linearGradient id="lgY" x1="0" y1="0" x2="1" y2="1">
<stop offset="0" stop-color="#d8d8de"/>
<stop offset="0.5" stop-color="#f4f4f8"/>
<stop offset="1" stop-color="#b8b8c0"/>
</linearGradient>
<clipPath id="lgClip"><circle cx="586" cy="588" r="562"/></clipPath>
</defs>
<circle cx="586" cy="588" r="564" fill="url(#lgC)"/>
<g clip-path="url(#lgClip)" fill="none" stroke="url(#lgY)" stroke-width="64" stroke-linecap="round" stroke-linejoin="round">
<path d="M452,1160 L452,760 L222,345 A61,61 0 0 1 330,292 L577,712 L577,1160"/>
<path d="M455,292 L655,612 L880,292 A61,61 0 0 1 985,350 L710,760 L710,1160"/>
</g>
</svg>
<svg width="170" height="40" viewBox="1380 1080 170 40" style="position:absolute;left:1380px;top:1080px">
<g fill="none" stroke="#2a2526" stroke-width="5.2">
<path d="M1402.5,1088.7 L1399,1088.7 A11.5,12.6 0 0 0 1399,1113.9 L1402.5,1113.9"/>
<path d="M1425.3,1088.7 L1421.8,1088.7 A11.5,12.6 0 0 0 1421.8,1113.9 L1425.3,1113.9 M1411,1101.3 L1423.5,1101.3" />
<ellipse cx="1458.5" cy="1100.4" rx="14.6" ry="14.4" stroke-width="4.6"/>
</g>
<path d="M1450.4,1091 L1450.4,1101 Q1450.4,1105 1453.5,1105 Q1456.6,1105 1456.6,1101 L1456.6,1091" fill="none" stroke="#2a2526" stroke-width="2.6"/>
<path d="M1458.8,1096 L1458.8,1109.5 L1465,1109.5" fill="none" stroke="#2a2526" stroke-width="2.6"/>
<circle cx="1453.6" cy="1107.5" r="1.3" fill="#8a8f95"/>
<path d="M1495.5,1089 Q1519,1083.5 1543.5,1089.5 M1495.5,1113.5 Q1519,1119 1543.5,1112.5" fill="none" stroke="#2a2526" stroke-width="4.2"/>
<path d="M1495,1088 L1495,1114.5" stroke="#2a2526" stroke-width="6.5"/>
<path d="M1543.5,1089.5 L1544.5,1094 M1543.5,1112.5 L1544.5,1108" stroke="#2a2526" stroke-width="4.2"/>
<text x="1500.5" y="1108.6" font-family="Liberation Sans" font-weight="bold" font-size="24.5" fill="#2a2526" stroke="#2a2526" stroke-width="0.6" textLength="38" lengthAdjust="spacingAndGlyphs">MA</text>
</svg>

<div class="abs" id="logo-t">YLI ELECTRONIC</div>

<div class="abs" id="comp">Shenzhen YLI Electric Lock Co.,Ltd.</div>
<div id="line"></div>
<div class="abs ft" style="left:60px;top:1039px;">Address: Room 1605, Block A, Haisong Building, Tairan 9th Road,</div>
<div class="abs ft" style="left:60px;top:1068px;">Futian District, Shenzhen.</div>
<div class="abs ft" style="left:60px;top:1097.5px;letter-spacing:0.6px">Tel: 0755-83489801/02/03/05/06</div>
<div class="abs ft" style="left:444px;top:1097.5px;">Fax: 0755-83489807</div>
<div class="abs ft" style="left:60px;top:1126.5px;letter-spacing:0.2px">E-mail: yli@yli.cn</div>
<div class="abs ft" style="left:250px;top:1126.5px;">Zip Code: 518040</div>
<div class="abs ft" style="left:444px;top:1126.5px;letter-spacing:0.3px">Http: //www.yli.cn</div>
<div class="abs" id="prod">YLI Products sell well in more than 100 countries and regions</div>
</body></html>
